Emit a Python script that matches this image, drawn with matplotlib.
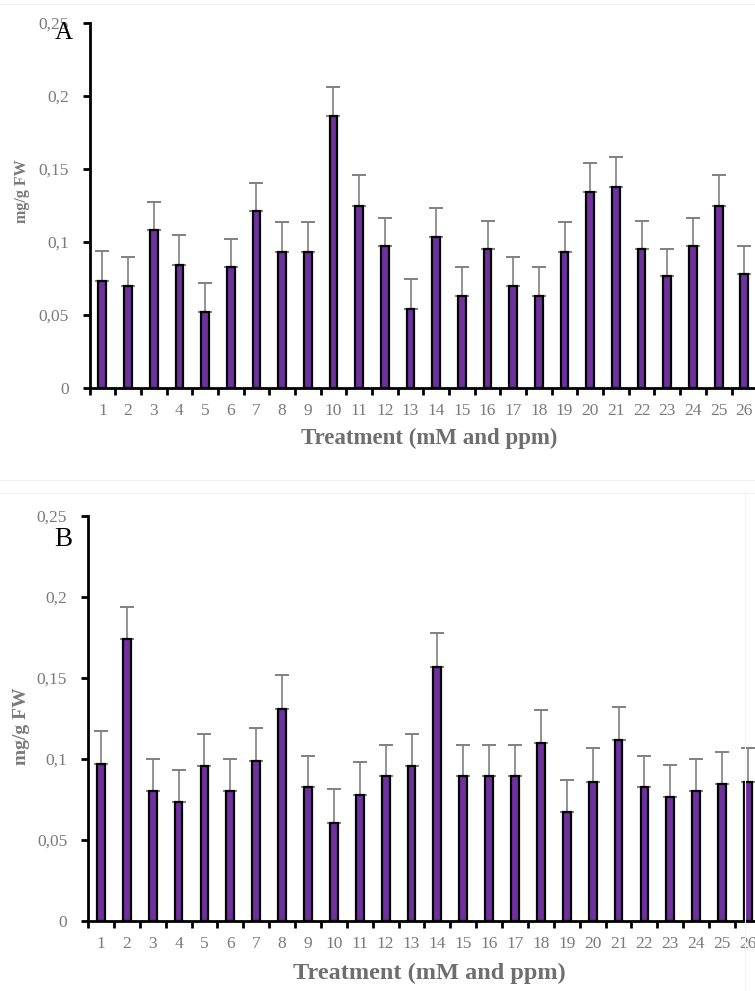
import matplotlib
matplotlib.use("Agg")
import matplotlib.pyplot as plt
from matplotlib.lines import Line2D
import numpy as np

# Treatments 1..26
treatments = [str(i) for i in range(1, 27)]

# Panel A: means and standard errors (mg/g FW)
values_a = [0.0735, 0.070, 0.1085, 0.0845, 0.052, 0.083, 0.1215, 0.093, 0.093, 0.186,
            0.125, 0.0975, 0.054, 0.1035, 0.063, 0.0955, 0.070, 0.063, 0.093, 0.134,
            0.1375, 0.0955, 0.0765, 0.0975, 0.125, 0.078]
errors_a = [0.020, 0.020, 0.019, 0.020, 0.020, 0.019, 0.019, 0.021, 0.021, 0.020,
            0.021, 0.019, 0.021, 0.020, 0.020, 0.019, 0.020, 0.020, 0.021, 0.020,
            0.021, 0.019, 0.019, 0.019, 0.021, 0.019]

# Panel B: means and standard errors (mg/g FW)
values_b = [0.097, 0.174, 0.080, 0.0735, 0.0955, 0.080, 0.099, 0.131, 0.083, 0.0605,
            0.078, 0.0895, 0.0955, 0.157, 0.0895, 0.0895, 0.0895, 0.110, 0.067, 0.086,
            0.112, 0.083, 0.0765, 0.080, 0.0845, 0.086]
errors_b = [0.020, 0.020, 0.020, 0.020, 0.020, 0.020, 0.020, 0.021, 0.019, 0.021,
            0.020, 0.019, 0.020, 0.021, 0.019, 0.019, 0.019, 0.020, 0.020, 0.021,
            0.020, 0.019, 0.020, 0.020, 0.020, 0.021]

y_ticks = [0, 0.05, 0.1, 0.15, 0.2, 0.25]
y_tick_labels = ["0", "0,05", "0,1", "0,15", "0,2", "0,25"]

BAR_COLOR = "#7030A0"
TEXT_GRAY = "#7a7a7a"
SERIF = ["Liberation Serif", "DejaVu Serif"]

W, H = 755, 991
fig = plt.figure(figsize=(W / 100, H / 100), dpi=100)
fig.patch.set_facecolor("white")


def px_axes(left, top, right, bottom):
    return fig.add_axes([left / W, 1 - bottom / H, (right - left) / W, (bottom - top) / H])


def draw_panel(ax, values, errors):
    x = np.arange(1, len(values) + 1)
    ax.bar(x, values, width=0.3, color=BAR_COLOR, edgecolor="black",
           linewidth=1.6, zorder=3)
    ax.errorbar(x, values, yerr=[np.zeros(len(errors)), errors], fmt="none",
                ecolor="#808080", elinewidth=1.2, capsize=5, capthick=1.4, zorder=2)
    ax.set_xlim(0.5, len(values) + 0.5)
    ax.set_ylim(0, 0.25)
    ax.set_yticks(y_ticks)
    ax.set_yticklabels(y_tick_labels)
    ax.set_xticks(x)
    ax.set_xticklabels(treatments)
    ax.set_xticks(np.arange(0.5, len(values) + 1, 1.0), minor=True)
    ax.tick_params(axis="x", which="major", length=0, pad=11)
    ax.tick_params(axis="x", which="minor", length=5, width=2, color="black")
    ax.tick_params(axis="y", length=5, width=2, color="black", pad=10)
    for lab in ax.get_xticklabels() + ax.get_yticklabels():
        lab.set_fontfamily(SERIF)
        lab.set_fontsize(12.5)
        lab.set_color(TEXT_GRAY)
    for side in ("top", "right"):
        ax.spines[side].set_visible(False)
    for side in ("left", "bottom"):
        ax.spines[side].set_linewidth(2)
        ax.spines[side].set_color("black")
    ax.set_facecolor("none")


# Faint chart-area borders
for yline in (4, 480, 493):
    fig.add_artist(Line2D([0, 1], [1 - yline / H] * 2, color="#f0f0f0", lw=0.8))
fig.add_artist(Line2D([745 / W] * 2, [1 - 493 / H, 0.0], color="#f5f5f5", lw=0.8))

ax_a = px_axes(89.5, 23, 89.5 + 26 * 25.68, 388)
draw_panel(ax_a, values_a, errors_a)

ax_b = px_axes(88, 516, 88 + 26 * 25.88, 921)
draw_panel(ax_b, values_b, errors_b)

# Axis titles and panel letters
fig.text(22 / W, 1 - 191 / H, "mg/g FW", rotation=90, ha="center", va="center",
         family=SERIF, fontweight="bold", fontsize=11.5, color=TEXT_GRAY)
fig.text(22 / W, 1 - 726 / H, "mg/g FW", rotation=90, ha="center", va="center",
         family=SERIF, fontweight="bold", fontsize=14, color=TEXT_GRAY)
fig.text(429 / W, 1 - 438 / H, "Treatment (mM and ppm)", ha="center", va="center",
         family=SERIF, fontweight="bold", fontsize=16.5, color="#6e6e6e")
fig.text(429 / W, 1 - 973 / H, "Treatment (mM and ppm)", ha="center", va="center",
         family=SERIF, fontweight="bold", fontsize=17.5, color="#6e6e6e")
fig.text(64 / W, 1 - 33 / H, "A", ha="center", va="center",
         family=SERIF, fontsize=18, color="black")
fig.text(63 / W, 1 - 539 / H, "B", ha="center", va="center",
         family=SERIF, fontsize=19.5, color="black")

fig.savefig("out.png", dpi=100, facecolor="white")
